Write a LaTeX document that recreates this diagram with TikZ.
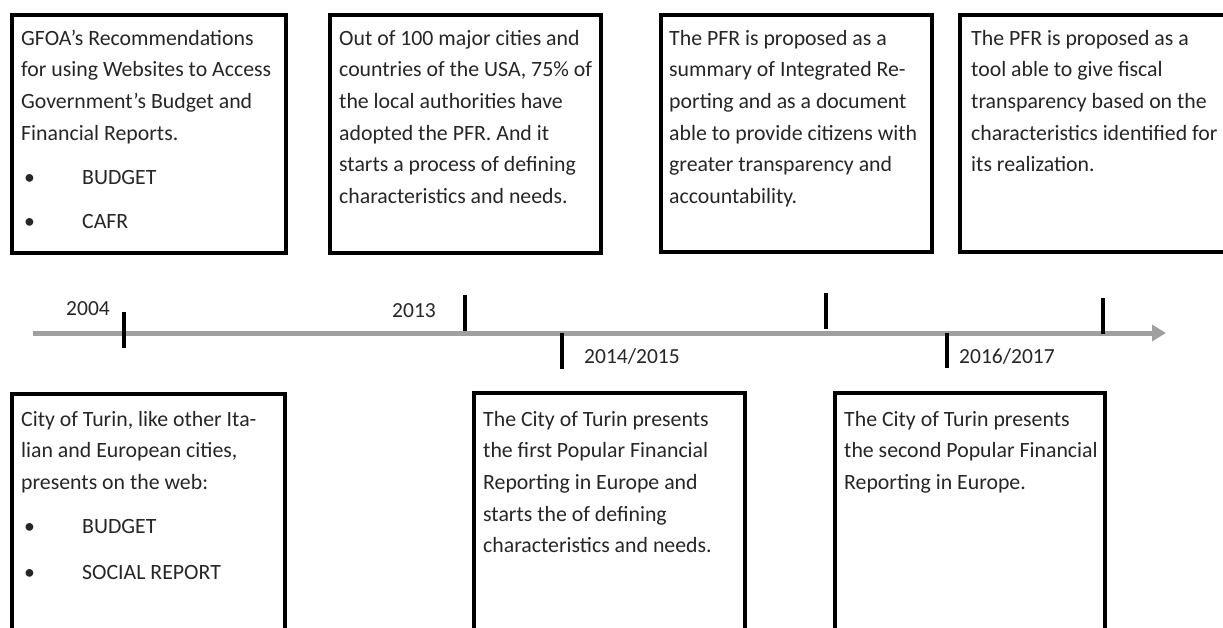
\documentclass[tikz,border=0pt]{standalone}
\usepackage{fontspec}
\setmainfont{Carlito}
\usetikzlibrary{arrows.meta}
\definecolor{txtgray}{RGB}{38,38,38}
\definecolor{axisgray}{RGB}{160,160,160}
\newcommand{\bulitem}{\makebox[61pt][l]{\hspace{3pt}•}}
\begin{document}
\begin{tikzpicture}[x=1pt,y=-1pt,
  frame/.style={draw=black,line width=4pt,rectangle,anchor=north west,inner sep=0pt,outer sep=0pt},
  txt/.style={anchor=north west,inner sep=0pt,align=left,text=txtgray,font=\fontsize{21.8}{31.7}\selectfont},
  year/.style={anchor=base west,inner sep=0pt,text=txtgray,font=\fontsize{21.5}{25}\selectfont},
  tickmark/.style={line width=4pt,black},
  axis/.style={line width=5pt,draw=axisgray,-{Triangle[length=14pt,width=16pt,fill=axisgray]}}
]
\useasboundingbox (0,0) rectangle (1223,628);
\fill[white] (0,0) rectangle (1223,628);
\clip (0,0) rectangle (1223,628);

% top boxes
\node[frame,minimum width=274pt,minimum height=238pt] (b1) at (12,15) {};
\node[frame,minimum width=271pt,minimum height=238pt] (b2) at (330,15) {};
\node[frame,minimum width=271pt,minimum height=237pt] (b3) at (661,15) {};
\node[frame,minimum width=290pt,minimum height=237pt] (b4) at (960,15) {};
% bottom boxes
\node[frame,minimum width=273pt,minimum height=260pt] (b5) at (12,394) {};
\node[frame,minimum width=271pt,minimum height=260pt] (b6) at (474,393) {};
\node[frame,minimum width=270pt,minimum height=260pt] (b7) at (835,393) {};

% texts
\node[txt] (t1) at (21,22.8) {\strut GFOA’s Recommendations\\
for using Websites to Access\\
Government’s Budget and\\
Financial Reports.\\[13pt]
\bulitem BUDGET\\[12pt]
\bulitem CAFR};
\node[txt] (t2) at (339,22.8) {\strut Out of 100 major cities and\\
countries of the USA, 75\% of\\
the local authorities have\\
adopted the PFR. And it\\
starts a process of defining\\
characteristics and needs.};
\node[txt] (t3) at (669,22.8) {\strut The PFR is proposed as a\\
summary of Integrated Re-\\
porting and as a document\\
able to provide citizens with\\
greater transparency and\\
accountability.};
\node[txt] (t4) at (971,22.8) {\strut The PFR is proposed as a\\
tool able to give fiscal\\
transparency based on the\\
characteristics identified for\\
its realization.};
\node[txt] (t5) at (21,403.8) {\strut City of Turin, like other Ita-\\
lian and European cities,\\
presents on the web:\\[12pt]
\bulitem BUDGET\\[15pt]
\bulitem SOCIAL REPORT};
\node[txt] (t6) at (483,403.8) {\strut The City of Turin presents\\
the first Popular Financial\\
Reporting in Europe and\\
starts the of defining\\
characteristics and needs.};
\node[txt] (t7) at (844,403.8) {\strut The City of Turin presents\\
the second Popular Financial\\
Reporting in Europe.};

% timeline
\coordinate (axstart) at (33,333);
\coordinate (axend) at (1166,333);
\draw[axis] (axstart) -- (axend);

\coordinate (k1a) at (124,312); \coordinate (k1b) at (124,348);
\coordinate (k2a) at (465,295); \coordinate (k2b) at (465,331);
\coordinate (k3a) at (562,333); \coordinate (k3b) at (562,369);
\coordinate (k4a) at (826,293); \coordinate (k4b) at (826,329);
\coordinate (k5a) at (947,333); \coordinate (k5b) at (947,368);
\coordinate (k6a) at (1103,298); \coordinate (k6b) at (1103,334);
\draw[tickmark] (k1a) -- (k1b);
\draw[tickmark] (k2a) -- (k2b);
\draw[tickmark] (k3a) -- (k3b);
\draw[tickmark] (k4a) -- (k4b);
\draw[tickmark] (k5a) -- (k5b);
\draw[tickmark] (k6a) -- (k6b);

\node[year] (y1) at (66,316) {2004};
\node[year] (y2) at (392,317) {2013};
\node[year] (y3) at (584,363) {2014/2015};
\node[year] (y4) at (959,363) {2016/2017};
\end{tikzpicture}
\end{document}
